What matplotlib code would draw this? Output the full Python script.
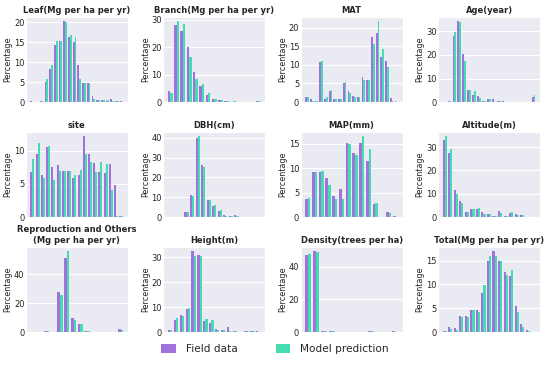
import numpy as np
import matplotlib
matplotlib.use('Agg')
import matplotlib.pyplot as plt
import seaborn as sns

# percentage per bin (field data vs model prediction)
titles = ['Leaf(Mg per ha per yr)', 'Branch(Mg per ha per yr)', 'MAT', 'Age(year)',
          'site', 'DBH(cm)', 'MAP(mm)', 'Altitude(m)',
          'Reproduction and Others\n(Mg per ha per yr)', 'Height(m)',
          'Density(trees per ha)', 'Total(Mg per ha per yr)']

leaf_field = [0.2, 0.0, 0.3, 5.1, 8.3, 14.3, 15.3, 20.4, 16.3, 15.1, 9.3, 4.8, 4.8, 1.5, 0.5, 0.4, 0.3, 0.7, 0.3, 0.2]
leaf_model = [0.1, 0.0, 0.3, 5.7, 9.2, 15.3, 15.3, 20.0, 16.9, 16.3, 5.8, 4.7, 4.7, 0.8, 0.5, 0.6, 0.5, 0.3, 0.3, 0.1]

branch_field = [3.9, 28.0, 26.0, 20.0, 11.0, 6.0, 2.7, 1.1, 0.6, 0.3, 0.1, 0.1, 0.0, 0.0, 0.3]
branch_model = [3.4, 29.6, 28.5, 16.5, 8.5, 6.5, 3.3, 1.1, 0.7, 0.2, 0.2, 0.0, 0.0, 0.0, 0.3]

mat_field = [1.4, 0.7, 0.4, 10.8, 0.9, 3.0, 0.7, 0.7, 5.0, 3.0, 1.6, 1.4, 6.8, 5.8, 17.5, 18.5, 12.0, 11.0, 1.0, 0.2]
mat_model = [1.4, 0.4, 0.4, 11.1, 1.4, 3.3, 0.8, 0.8, 5.5, 2.5, 1.4, 1.4, 5.8, 5.8, 15.5, 21.8, 14.3, 9.3, 0.4, 0.0]

age_field = [0.1, 0.3, 28.0, 34.5, 20.5, 5.2, 3.2, 2.6, 0.3, 1.2, 1.2, 0.4, 0.5, 0.1, 0.2, 0.1, 0.0, 0.0, 2.3]
age_model = [0.1, 0.3, 29.6, 34.0, 17.5, 5.2, 4.8, 1.9, 0.4, 1.2, 0.2, 0.4, 0.2, 0.1, 0.1, 0.0, 0.0, 0.0, 2.8]

site_field = [6.8, 9.5, 6.4, 10.6, 7.6, 7.8, 7.0, 7.0, 5.8, 6.3, 12.2, 9.5, 8.1, 6.8, 6.7, 8.0, 4.8, 0.2]
site_model = [8.7, 11.2, 5.9, 10.7, 5.6, 7.0, 7.0, 7.0, 6.4, 7.1, 9.5, 8.3, 6.8, 8.3, 8.0, 4.0, 0.2, 0.2]

dbh_field = [0.2, 0.1, 0.0, 2.4, 11.0, 39.8, 26.2, 8.7, 5.5, 3.0, 1.1, 0.7, 1.1, 0.2, 0.1, 0.1, 0.2]
dbh_model = [0.1, 0.1, 0.0, 2.4, 10.4, 41.0, 25.3, 8.5, 6.0, 3.5, 0.3, 0.7, 0.5, 0.1, 0.1, 0.1, 0.2]

map_field = [3.6, 9.3, 9.3, 8.0, 4.3, 5.8, 15.1, 13.2, 15.1, 11.4, 2.7, 0.1, 1.1, 0.3]
map_model = [3.9, 9.3, 9.5, 6.6, 3.7, 3.7, 15.0, 12.7, 16.6, 14.0, 2.8, 0.1, 0.9, 0.1]

alt_field = [33.0, 27.5, 11.8, 6.7, 2.1, 3.5, 3.5, 2.1, 1.2, 0.6, 2.4, 0.4, 1.8, 1.3, 1.0, 0.2, 0.2]
alt_model = [34.8, 29.0, 9.7, 5.9, 2.3, 3.4, 4.0, 1.5, 1.3, 0.3, 1.8, 0.6, 2.1, 1.1, 1.0, 0.2, 0.0]

repro_field = [0.1, 0.1, 1.0, 0.0, 27.5, 51.0, 10.0, 5.7, 1.0, 0.3, 0.2, 0.2, 0.3, 2.3]
repro_model = [0.1, 0.1, 1.0, 0.0, 25.5, 56.0, 8.5, 5.5, 1.0, 0.3, 0.2, 0.2, 0.2, 1.5]

height_field = [1.0, 5.0, 6.8, 9.2, 32.5, 31.0, 4.5, 3.5, 1.2, 0.8, 2.2, 0.5, 0.2, 0.5, 0.4, 0.3]
height_model = [1.0, 5.8, 6.5, 9.5, 30.5, 30.5, 5.3, 4.8, 1.0, 0.8, 0.6, 0.5, 0.1, 0.3, 0.3, 0.2]

density_field = [47.0, 49.6, 0.8, 0.8, 0.2, 0.0, 0.2, 0.0, 0.9, 0.0, 0.1, 0.5]
density_model = [48.0, 49.0, 0.8, 0.8, 0.1, 0.0, 0.1, 0.0, 0.5, 0.0, 0.1, 0.3]

total_field = [0.2, 1.0, 0.9, 3.3, 3.4, 4.7, 4.6, 8.2, 15.0, 17.0, 14.8, 12.5, 11.8, 5.4, 1.8, 0.4, 0.1]
total_model = [0.2, 0.6, 0.5, 3.1, 3.1, 4.7, 4.2, 9.8, 16.0, 16.0, 14.8, 11.9, 13.1, 4.3, 1.0, 0.2, 0.1]

field_series = [leaf_field, branch_field, mat_field, age_field, site_field, dbh_field,
                map_field, alt_field, repro_field, height_field, density_field, total_field]
model_series = [leaf_model, branch_model, mat_model, age_model, site_model, dbh_model,
                map_model, alt_model, repro_model, height_model, density_model, total_model]

FIELD_COLOR = '#A072DC'
MODEL_COLOR = '#44DDB2'


def main():
    sns.set_style('darkgrid')
    plt.rcParams['font.family'] = ['DejaVu Sans']

    fig, axes = plt.subplots(3, 4, figsize=(5.5, 3.74), dpi=100)
    fig.subplots_adjust(left=0.047, right=0.982, top=0.955, bottom=0.112,
                        wspace=0.345, hspace=0.35)

    w = 0.38
    for ax, title, field, model in zip(axes.flat, titles, field_series, model_series):
        x = np.arange(len(field))
        ax.bar(x - w / 2, field, width=w, color=FIELD_COLOR, linewidth=0, label='Field data')
        ax.bar(x + w / 2, model, width=w, color=MODEL_COLOR, linewidth=0, label='Model prediction')
        ax.set_xticks([])
        ax.set_title(title, fontsize=6, fontweight='bold', pad=3)
        ax.set_ylabel('Percentage', fontsize=5.8, labelpad=1)
        ax.tick_params(axis='y', labelsize=6, pad=1, length=0)

    handles, labels = axes[0, 0].get_legend_handles_labels()
    fig.legend(handles, labels, loc='lower center', ncol=2, frameon=False,
               fontsize=7.6, bbox_to_anchor=(0.5, 0.027), columnspacing=3.6,
               handlelength=1.4, handleheight=0.95, handletextpad=0.9)

    fig.savefig('out.png', dpi=100)


if __name__ == '__main__':
    main()
